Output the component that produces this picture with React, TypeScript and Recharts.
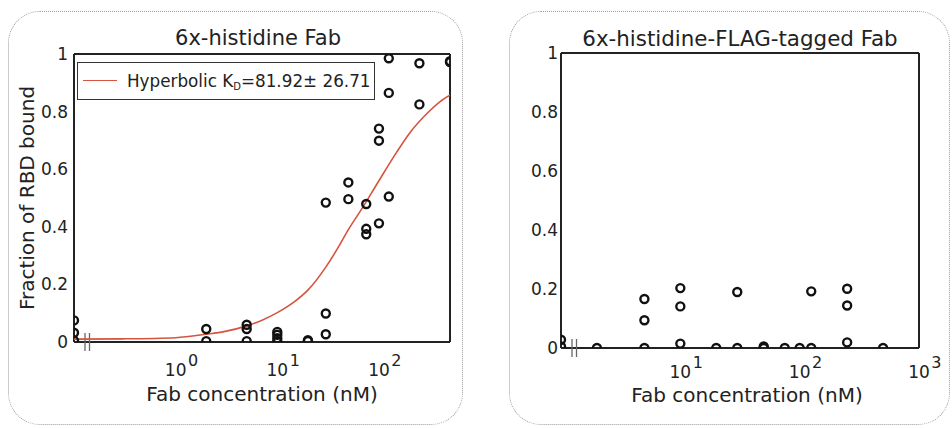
import React from 'react';
import { ScatterChart, Scatter, XAxis, YAxis, ReferenceDot, ReferenceLine } from 'recharts';

// ---------- data ----------
// 6x-histidine Fab (concentration 0 = no Fab, drawn at the axis break)
const hisConc = [0, 0, 0, 2, 2, 5, 5, 5, 10, 10, 10, 10, 20, 20, 30, 30, 30, 50, 50, 75, 75, 75, 100, 100, 100, 125, 125, 125, 250, 250, 500, 500];
const hisBound = [0.075, 0.032, 0.005, 0.045, 0.003, 0.06, 0.045, 0.003, 0.035, 0.025, 0.013, 0.003, 0.003, 0.006, 0.484, 0.099, 0.027, 0.554, 0.496, 0.479, 0.393, 0.374, 0.741, 0.699, 0.412, 0.985, 0.865, 0.505, 0.968, 0.825, 0.972, 0.975];

// fitted hyperbolic curve
const fitConc = [0.1, 0.3, 1, 2, 3, 5, 7, 10, 15, 20, 30, 40, 50, 70, 100, 150, 200, 300, 400, 500];
const fitBound = [0.010, 0.011, 0.015, 0.027, 0.036, 0.056, 0.075, 0.102, 0.142, 0.18, 0.26, 0.33, 0.39, 0.47, 0.56, 0.66, 0.725, 0.795, 0.835, 0.857];

// 6x-histidine-FLAG-tagged Fab
const flagConc = [0, 0, 2, 5, 5, 5, 10, 10, 10, 20, 30, 30, 50, 50, 75, 100, 125, 125, 250, 250, 250, 500];
const flagBound = [0.028, 0.005, 0.0, 0.166, 0.094, 0.0, 0.203, 0.141, 0.015, 0.0, 0.19, 0.0, 0.005, 0.0, 0.0, 0.0, 0.192, 0.0, 0.201, 0.144, 0.019, 0.0];

// ticks
const yTicks = [0, 0.2, 0.4, 0.6, 0.8, 1];
const leftMajor = [1, 10, 100];
const leftMinor = [0.2, 0.3, 0.4, 0.5, 0.6, 0.7, 0.8, 0.9, 1, 2, 3, 4, 5, 6, 7, 8, 9, 10, 20, 30, 40, 50, 60, 70, 80, 90, 100, 200, 300, 400];
const rightMajor = [10, 100, 1000];
const rightMinor = [2, 3, 4, 5, 6, 7, 8, 9, 10, 20, 30, 40, 50, 60, 70, 80, 90, 100, 200, 300, 400, 500, 600, 700, 800, 900];

const titles = ['6x-histidine Fab', '6x-histidine-FLAG-tagged Fab'];
const xLabel = 'Fab concentration (nM)';
const yLabel = 'Fraction of RBD bound';
const legendLabel = { pre: 'Hyperbolic K', sub: 'D', post: '=81.92\u00b1 26.71' };

const LEFT_MIN = 0.1;
const LEFT_MAX = 500;
const RIGHT_MIN = 1;
const RIGHT_MAX = 1000;

const toPoints = (conc: number[], bound: number[], zeroAt: number) =>
  conc.map((c, i) => ({ x: c === 0 ? zeroAt : c, y: bound[i] }));

const hisData = toPoints(hisConc, hisBound, LEFT_MIN);
const fitData = fitConc.map((c, i) => ({ x: c, y: fitBound[i] }));
const flagData = toPoints(flagConc, flagBound, RIGHT_MIN);

// ---------- styles ----------
const FONT = 'DejaVu Sans';
const INK = '#222';
const RED = '#d6543f';

const Ring = (props: any) => {
  const { cx, cy } = props;
  if (cx == null || cy == null) return <g />;
  return <circle cx={cx} cy={cy} r={4} fill="none" stroke="#111" strokeWidth={2.4} />;
};
const Nothing = () => <g />;

const makeLogTick = (drop: number) => (props: any) => {
  const { x, y, payload } = props;
  const exp = Math.round(Math.log10(payload.value));
  return (
    <text x={x - 10.8} y={y + drop} textAnchor="start" fontSize={17} fontFamily={FONT} fill={INK}>
      10
      <tspan dx={1.5} dy={-10} fontSize={16}>
        {exp}
      </tspan>
    </text>
  );
};
const LeftTick = makeLogTick(34);
const RightTick = makeLogTick(30);

const BreakMark = (props: any) => {
  const { cx, cy } = props;
  if (cx == null || cy == null) return <g />;
  return (
    <g stroke="#666" strokeWidth={1.3}>
      <line x1={cx + 11} x2={cx + 11} y1={cy - 9} y2={cy + 9} />
      <line x1={cx + 15.5} x2={cx + 15.5} y1={cy - 9} y2={cy + 9} />
    </g>
  );
};

type PanelProps = {
  data: { x: number; y: number }[];
  fit?: { x: number; y: number }[];
  domain: [number, number];
  major: number[];
  minor: number[];
  margin: { top: number; right: number; bottom: number; left: number };
  yTickMargin: number;
  TickComp: any;
};

const Panel = ({ data, fit, domain, major, minor, margin, yTickMargin, TickComp }: PanelProps) => (
  <ScatterChart width={476} height={428} margin={margin}>
    <XAxis
      xAxisId="b"
      type="number"
      dataKey="x"
      scale="log"
      domain={domain}
      allowDataOverflow
      ticks={major}
      interval={0}
      tick={<TickComp />}
      tickLine={false}
      tickSize={0}
      tickMargin={0}
      height={40}
      axisLine={{ stroke: INK, strokeWidth: 2 }}
    />
    <XAxis
      xAxisId="bm"
      type="number"
      dataKey="x"
      scale="log"
      domain={domain}
      allowDataOverflow
      ticks={minor}
      interval={0}
      mirror
      tick={false}
      tickSize={3}
      tickLine={{ stroke: '#aaa', strokeWidth: 1 }}
      axisLine={false}
      height={1}
    />
    <XAxis
      xAxisId="t"
      orientation="top"
      type="number"
      dataKey="x"
      scale="log"
      domain={domain}
      allowDataOverflow
      ticks={minor}
      interval={0}
      mirror
      tick={false}
      tickSize={3}
      tickLine={{ stroke: '#aaa', strokeWidth: 1 }}
      axisLine={false}
      height={1}
    />
    <YAxis
      yAxisId="l"
      type="number"
      dataKey="y"
      domain={[0, 1]}
      allowDataOverflow
      ticks={yTicks}
      interval={0}
      tickFormatter={(v: number) => String(v)}
      tickLine={false}
      tickSize={0}
      tickMargin={yTickMargin}
      width={40}
      tick={{ fill: INK, fontSize: 17, fontFamily: FONT }}
      axisLine={{ stroke: INK, strokeWidth: 2 }}
    />
    <YAxis
      yAxisId="lm"
      type="number"
      dataKey="y"
      domain={[0, 1]}
      ticks={yTicks}
      interval={0}
      mirror
      tick={false}
      tickSize={3}
      tickLine={{ stroke: '#888', strokeWidth: 1 }}
      axisLine={false}
      width={1}
    />
    <YAxis
      yAxisId="r"
      orientation="right"
      type="number"
      dataKey="y"
      domain={[0, 1]}
      ticks={yTicks}
      interval={0}
      mirror
      tick={false}
      tickSize={4}
      tickLine={{ stroke: '#888', strokeWidth: 1 }}
      axisLine={false}
      width={1}
    />
    <ReferenceLine xAxisId="b" yAxisId="l" y={1} stroke={INK} strokeWidth={2} ifOverflow="visible" />
    <ReferenceLine xAxisId="b" yAxisId="l" x={domain[1]} stroke={INK} strokeWidth={2} ifOverflow="visible" />
    <ReferenceDot xAxisId="b" yAxisId="l" x={domain[0]} y={0} r={0} shape={<BreakMark />} ifOverflow="visible" />
    {fit && (
      <Scatter
        xAxisId="b"
        yAxisId="l"
        data={fit}
        shape={<Nothing />}
        line={{ stroke: RED, strokeWidth: 1.6 }}
        lineJointType="monotoneX"
        isAnimationActive={false}
      />
    )}
    <Scatter xAxisId="b" yAxisId="l" data={data} shape={<Ring />} isAnimationActive={false} />
  </ScatterChart>
);

const textBase: React.CSSProperties = {
  position: 'absolute',
  fontFamily: FONT,
  color: INK,
  whiteSpace: 'nowrap',
  lineHeight: 1,
};

export default function App() {
  return (
    <div style={{ position: 'absolute', left: 0, top: 0, width: 952, height: 428, background: '#fff', overflow: 'hidden' }}>
      {/* panel frames */}
      <div style={{ position: 'absolute', left: 8, top: 11, width: 455, height: 414, border: '1.5px dotted #9a9a9a', borderRadius: 32, boxSizing: 'border-box' }} />
      <div style={{ position: 'absolute', left: 509, top: 11, width: 441, height: 414, border: '1.5px dotted #9a9a9a', borderRadius: 32, boxSizing: 'border-box' }} />

      {/* left chart */}
      <div style={{ position: 'absolute', left: 0, top: 0 }}>
        <Panel
          data={hisData}
          fit={fitData}
          domain={[LEFT_MIN, LEFT_MAX]}
          major={leftMajor}
          minor={leftMinor}
          margin={{ top: 54, right: 26, bottom: 46, left: 34 }}
          yTickMargin={6}
          TickComp={LeftTick}
        />
      </div>
      {/* right chart */}
      <div style={{ position: 'absolute', left: 476, top: 0 }}>
        <Panel
          data={flagData}
          domain={[RIGHT_MIN, RIGHT_MAX]}
          major={rightMajor}
          minor={rightMinor}
          margin={{ top: 53, right: 33, bottom: 40, left: 45 }}
          yTickMargin={3}
          TickComp={RightTick}
        />
      </div>

      {/* titles */}
      <div style={{ ...textBase, left: 258, top: 28, fontSize: 21, transform: 'translateX(-50%)' }}>{titles[0]}</div>
      <div style={{ ...textBase, left: 740, top: 28, fontSize: 21.4, transform: 'translateX(-50%)' }}>{titles[1]}</div>

      {/* x labels */}
      <div style={{ ...textBase, left: 262, top: 388, fontSize: 20, lineHeight: 0.6, transform: 'translateX(-50%)' }}>{xLabel}</div>
      <div style={{ ...textBase, left: 747, top: 389, fontSize: 20, lineHeight: 0.6, transform: 'translateX(-50%)' }}>{xLabel}</div>

      {/* y label */}
      <div style={{ ...textBase, left: 27, top: 198, fontSize: 20, transform: 'translate(-50%, -50%) rotate(-90deg)' }}>{yLabel}</div>

      {/* legend */}
      <div style={{ position: 'absolute', left: 77, top: 62, width: 298, height: 38, border: '1.5px solid #333', background: '#fff', boxSizing: 'border-box' }}>
        <div style={{ position: 'absolute', left: 5, top: 17, width: 34, height: 0, borderTop: `1.6px solid ${RED}` }} />
        <div style={{ ...textBase, left: 49, top: 10, fontSize: 16.8 }}>
          {legendLabel.pre}
          <span style={{ fontSize: 10, verticalAlign: -3 }}>{legendLabel.sub}</span>
          {legendLabel.post}
        </div>
      </div>
    </div>
  );
}
